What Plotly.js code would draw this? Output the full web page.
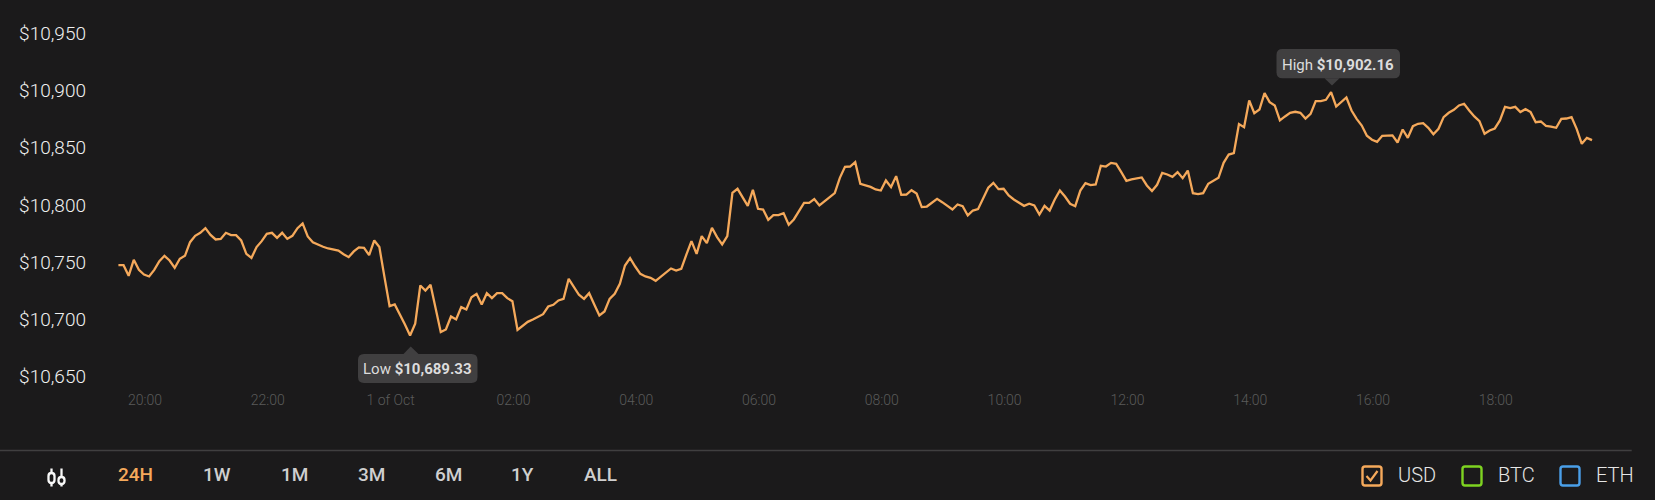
<!DOCTYPE html>
<html>
<head>
<meta charset="utf-8">
<script src="https://cdn.plot.ly/plotly-3.0.1.min.js"></script>
<style>html,body{margin:0;padding:0;background:#1b1a1b;overflow:hidden}#chart{width:1655px;height:500px}</style>
</head>
<body>
<div id="chart"></div>
<script>
const startTime = '2020-09-30T19:34:00';
const stepMinutes = 5;
const priceValues = [
10750.8,10750.8,10741.5,10755.5,10746.7,10742.6,10740.9,10746.7,10754.3,10759.0,
10754.9,10748.5,10756.4,10759.0,10770.9,10776.5,10779.1,10783.2,10777.3,10773.3,
10773.8,10779.1,10777.1,10777.1,10772.4,10760.7,10757.2,10766.6,10771.8,10778.2,
10779.1,10774.7,10779.1,10773.8,10776.5,10783.2,10787.3,10775.9,10770.9,10768.6,
10766.9,10765.4,10764.5,10763.6,10760.4,10757.8,10762.8,10766.3,10766.0,10759.6,
10772.4,10766.6,10740.3,10714.9,10716.4,10708.2,10698.9,10689.33,10699.5,10733.0,
10728.6,10733.6,10714.1,10692.2,10694.5,10705.9,10703.3,10714.1,10712.0,10722.8,
10725.7,10716.4,10726.3,10721.9,10726.3,10726.3,10721.9,10719.3,10694.2,10697.4,
10701.2,10703.3,10705.3,10707.9,10714.6,10716.1,10719.9,10721.3,10738.9,10731.6,
10724.9,10721.3,10726.3,10716.4,10706.8,10710.3,10721.3,10725.7,10734.5,10750.5,
10756.9,10749.6,10743.2,10740.9,10739.7,10737.1,10740.9,10744.1,10747.9,10746.1,
10747.6,10760.1,10771.8,10760.7,10776.2,10770.1,10783.5,10775.3,10768.9,10776.2,
10814.1,10817.6,10810.3,10802.7,10816.7,10800.1,10799.5,10790.5,10794.6,10794.6,
10796.3,10786.1,10790.8,10797.8,10805.3,10805.3,10808.6,10803.0,10806.8,10810.3,
10813.8,10827.2,10836.8,10837.1,10840.9,10822.0,10820.5,10819.3,10817.0,10816.1,
10824.9,10819.1,10828.7,10812.3,10812.6,10816.4,10813.5,10801.6,10802.1,10805.6,
10808.8,10805.9,10803.0,10799.5,10803.9,10802.4,10794.3,10798.6,10799.8,10809.7,
10818.5,10822.8,10817.3,10817.6,10811.8,10808.3,10805.3,10802.7,10804.5,10803.0,
10795.1,10802.7,10798.6,10808.3,10816.1,10810.9,10804.5,10802.4,10816.1,10822.6,
10820.8,10821.4,10837.7,10837.1,10840.3,10839.5,10832.2,10824.6,10825.8,10826.9,
10827.5,10820.5,10815.6,10821.1,10831.6,10830.1,10828.1,10832.2,10826.9,10833.6,
10813.8,10812.9,10813.8,10822.0,10824.9,10827.2,10840.3,10847.6,10848.8,10874.2,
10871.5,10894.9,10883.8,10887.0,10901.3,10893.4,10890.5,10877.4,10880.9,10884.1,
10885.0,10884.1,10879.1,10883.2,10894.3,10894.3,10895.5,10902.16,10889.6,10893.4,
10897.5,10886.1,10878.8,10873.0,10864.0,10860.5,10858.7,10864.0,10864.0,10864.3,
10858.1,10869.5,10862.2,10872.4,10874.5,10875.0,10871.0,10865.4,10870.1,10880.3,
10884.1,10886.7,10890.5,10892.0,10886.1,10880.9,10876.8,10865.7,10868.6,10870.4,
10877.4,10889.3,10888.2,10889.3,10884.7,10887.3,10884.7,10875.9,10876.5,10872.7,
10872.1,10871.0,10878.8,10879.1,10880.3,10870.1,10857.0,10862.2,10860.2
];
const yTickVals = [10650,10700,10750,10800,10850,10900,10950];
const yTickText = ['$10,650','$10,700','$10,750','$10,800','$10,850','$10,900','$10,950'];
const xTickVals = ['2020-09-30T20:00:00','2020-09-30T22:00:00','2020-10-01T00:00:00','2020-10-01T02:00:00','2020-10-01T04:00:00','2020-10-01T06:00:00','2020-10-01T08:00:00','2020-10-01T10:00:00','2020-10-01T12:00:00','2020-10-01T14:00:00','2020-10-01T16:00:00','2020-10-01T18:00:00'];
const xTickText = ['20:00','22:00','1 of Oct','02:00','04:00','06:00','08:00','10:00','12:00','14:00','16:00','18:00'];
const rangeLabels = ['24H','1W','1M','3M','6M','1Y','ALL'];
const rangeCenters = [135.5,217,294,371,448,522,600];
const currencyLabels = ['USD','BTC','ETH'];
const currencyColors = ['#f5a95b','#7ed321','#4a9fe8'];
const currencyBoxLeft = [1362.5,1462.5,1560.5];
const currencyTextLeft = [1397,1497,1595];

const W=1655,H=500,L=100,R=1640,T=0,B=385;
const px=x=>(x-L)/(R-L), py=y=>(B-y)/(B-T);
const pad=n=>String(n).padStart(2,'0');
const base=new Date(startTime);
const times=priceValues.map((_,i)=>{const d=new Date(base.getTime()+i*stepMinutes*60000);
  return d.getFullYear()+'-'+pad(d.getMonth()+1)+'-'+pad(d.getDate())+' '+pad(d.getHours())+':'+pad(d.getMinutes());});

function rr(x0,y0,x1,y1,r){return `M${x0+r},${y0} L${x1-r},${y0} Q${x1},${y0} ${x1},${y0+r} L${x1},${y1-r} Q${x1},${y1} ${x1-r},${y1} L${x0+r},${y1} Q${x0},${y1} ${x0},${y1-r} L${x0},${y0+r} Q${x0},${y0} ${x0+r},${y0} Z`;}
function pathPaper(cmds){return cmds.replace(/(-?[\d.]+),(-?[\d.]+)/g,(m,a,b)=>px(+a).toFixed(6)+','+py(+b).toFixed(6));}
function pathShape(d,fill,line,w){return {type:'path',xref:'paper',yref:'paper',path:pathPaper(d),fillcolor:fill,line:{color:line||'rgba(0,0,0,0)',width:w||0},layer:'above'};}

const shapes=[];
const tipColor='#403f40';
shapes.push(pathShape(rr(358,354,477.5,383,6),tipColor));
shapes.push(pathShape('M403.5,354 L410.7,346.5 L418.5,354 Z',tipColor));
shapes.push(pathShape(rr(1276.5,49,1400,78.3,6),tipColor));
shapes.push(pathShape('M1324.5,78.3 L1332,85.5 L1339.5,78.3 Z',tipColor));
shapes.push({type:'line',xref:'paper',yref:'paper',x0:px(0),x1:px(1631.7),y0:py(450.5),y1:py(450.5),line:{color:'#403f40',width:1.4}});
const iconC='#f8f8f8';
shapes.push(pathShape('M51.5,468.5 L51.5,473',null,iconC,2.3));
shapes.push(pathShape(rr(48.5,473,54.5,483,3),null,iconC,2.3));
shapes.push(pathShape('M51.5,483 L51.5,486.5',null,iconC,2.3));
shapes.push(pathShape('M61.5,468.5 L61.5,477',null,iconC,2.3));
shapes.push(pathShape(rr(58.5,477,64.5,484,3),null,iconC,2.3));
shapes.push(pathShape('M61.5,484 L61.5,486.5',null,iconC,2.3));
currencyColors.forEach((c,i)=>{const x=currencyBoxLeft[i];shapes.push(pathShape(rr(x,466.5,x+19,485.5,2.5),null,c,2.4));});
shapes.push(pathShape('M1366.5,476 L1370.5,480.5 L1377.5,471',null,currencyColors[0],2.2));

const annotations=[];
function note(x,y,text,size,color,anchor,weight){annotations.push({xref:'paper',yref:'paper',x:px(x),y:py(y),text,showarrow:false,xanchor:anchor||'center',yanchor:'middle',borderpad:0,font:{family:'Roboto',size,color,weight:weight||400}});}
note(417.5,369,'Low <b>$10,689.33</b>',15,'#dcdcdc');
note(1338,64.5,'High <b>$10,902.16</b>',15,'#dcdcdc');
rangeLabels.forEach((t,i)=>note(rangeCenters[i],474.5,t,19,i===0?'#f5a95b':'#cfcfcf','center',500));
currencyLabels.forEach((t,i)=>note(currencyTextLeft[i],475.5,t,20,'#e6e6e6','left',300));

const trace={type:'scatter',mode:'lines',x:times,y:priceValues,line:{color:'#f5a95b',width:2.3,shape:'linear'},hoverinfo:'skip'};
const layout={width:W,height:H,paper_bgcolor:'#1b1a1b',plot_bgcolor:'#1b1a1b',showlegend:false,
 margin:{l:L,r:W-R,t:T,b:H-B,pad:0},
 xaxis:{type:'date',range:['2020-09-30 19:16:00','2020-10-01 20:20:54'],tickmode:'array',tickvals:xTickVals,ticktext:xTickText,showgrid:false,zeroline:false,showline:false,ticks:'',tickangle:0,ticklabelstandoff:5,tickfont:{family:'Roboto',size:14,color:'#5a5a5a',weight:300}},
 yaxis:{range:[10645.95,10982.79],tickmode:'array',tickvals:yTickVals,ticktext:yTickText,showgrid:false,zeroline:false,showline:false,ticks:'',ticklabelstandoff:13,ticklabelshift:-4,tickfont:{family:'Roboto',size:19,color:'#f0f0f0',weight:300}},
 shapes,annotations};
Plotly.newPlot('chart',[trace],layout,{displayModeBar:false,staticPlot:true});
</script>
</body>
</html>
